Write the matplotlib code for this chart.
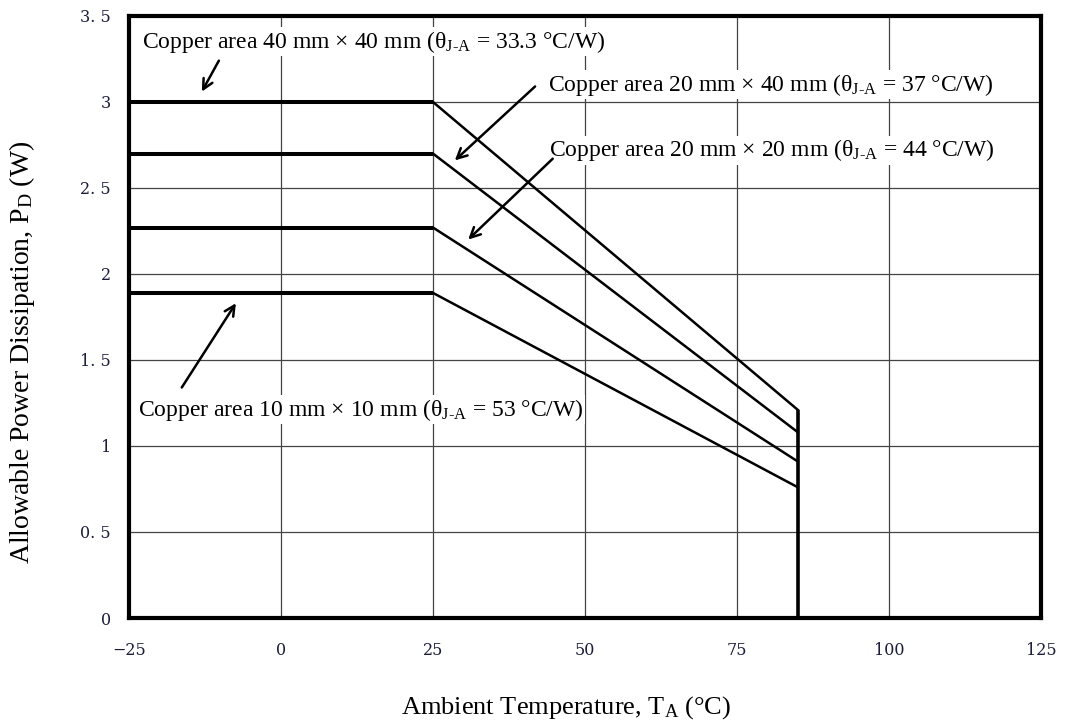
import numpy as np
import matplotlib.pyplot as plt

plt.rcParams['font.family'] = ['Liberation Serif', 'DejaVu Serif']
plt.rcParams['mathtext.fontset'] = 'custom'
plt.rcParams['mathtext.rm'] = 'Liberation Serif'
plt.rcParams['mathtext.it'] = 'Liberation Serif:italic'

# derating curves: flat up to 25 C, then linear down to 85 C
temps = [-25, 25, 85]
p_40x40 = [3.00, 3.00, 1.21]
p_20x40 = [2.70, 2.70, 1.08]
p_20x20 = [2.27, 2.27, 0.91]
p_10x10 = [1.89, 1.89, 0.76]
curves = [p_40x40, p_20x40, p_20x20, p_10x10]

labels = [
    r'Copper area 40 mm × 40 mm (θ$_{\mathrm{J\text{-}A}}$ = 33.3 °C/W)',
    r'Copper area 20 mm × 40 mm (θ$_{\mathrm{J\text{-}A}}$ = 37 °C/W)',
    r'Copper area 20 mm × 20 mm (θ$_{\mathrm{J\text{-}A}}$ = 44 °C/W)',
    r'Copper area 10 mm × 10 mm (θ$_{\mathrm{J\text{-}A}}$ = 53 °C/W)',
]
# text position, arrow tail, arrow tip (data units)
text_xy = [(-22.9, 3.35), (43.9, 3.10), (44.1, 2.72), (-23.5, 1.21)]
tail_xy = [(-10.2, 3.24), (41.8, 3.09), (44.7, 2.67), (-16.3, 1.34)]
tip_xy = [(-13.0, 3.06), (28.6, 2.66), (30.8, 2.20), (-7.4, 1.83)]

xticks = [-25, 0, 25, 50, 75, 100, 125]
xticklabels = ['\u221225', '0', '25', '50', '75', '100', '125']
yticks = [0, 0.5, 1, 1.5, 2, 2.5, 3, 3.5]
yticklabels = ['0', '0. 5', '1', '1. 5', '2', '2. 5', '3', '3. 5']

fig = plt.figure(figsize=(10.65, 7.24), dpi=100)
ax = fig.add_axes([0.121, 0.1464, 0.8565, 0.8316])

for p in curves:
    ax.plot(temps[:2], p[:2], color='black', lw=2.9, solid_capstyle='butt')
    ax.plot(temps[1:], p[1:], color='black', lw=1.8)
# cutoff line at 85 C
ax.plot([temps[2], temps[2]], [0, p_40x40[2]], color='black', lw=2.6, solid_capstyle='butt')

for lab, txy, a, b in zip(labels, text_xy, tail_xy, tip_xy):
    ax.text(txy[0], txy[1], lab, fontsize=17, va='center', ha='left',
            bbox=dict(facecolor='white', edgecolor='none', pad=1), zorder=5)
    ax.annotate('', xy=b, xytext=a,
                arrowprops=dict(arrowstyle='->', color='black', lw=1.8,
                                mutation_scale=18, shrinkA=0, shrinkB=0), zorder=6)

ax.set_xlim(-25, 125)
ax.set_ylim(0, 3.5)
ax.set_xticks(xticks)
ax.set_xticklabels(xticklabels, family='DejaVu Serif')
ax.set_yticks(yticks)
ax.set_yticklabels(yticklabels, family='DejaVu Serif')
ax.tick_params(axis='x', length=0, labelsize=11.5, labelcolor='#1c1c3c', pad=17)
ax.tick_params(axis='y', length=0, labelsize=11.5, labelcolor='#1c1c3c', pad=13)
ax.grid(True, color='#444444', lw=0.9)
ax.set_axisbelow(True)
for s in ax.spines.values():
    s.set_linewidth(3)

fig.text(0.5315, 0.022, r'Ambient Temperature, T$_{\mathrm{A}}$ (°C)', fontsize=19,
         ha='center', va='center')
fig.text(0.0207, 0.514, r'Allowable Power Dissipation, P$_{\mathrm{D}}$ (W)', fontsize=20,
         ha='center', va='center', rotation=90)

plt.savefig('out.png', dpi=100)
